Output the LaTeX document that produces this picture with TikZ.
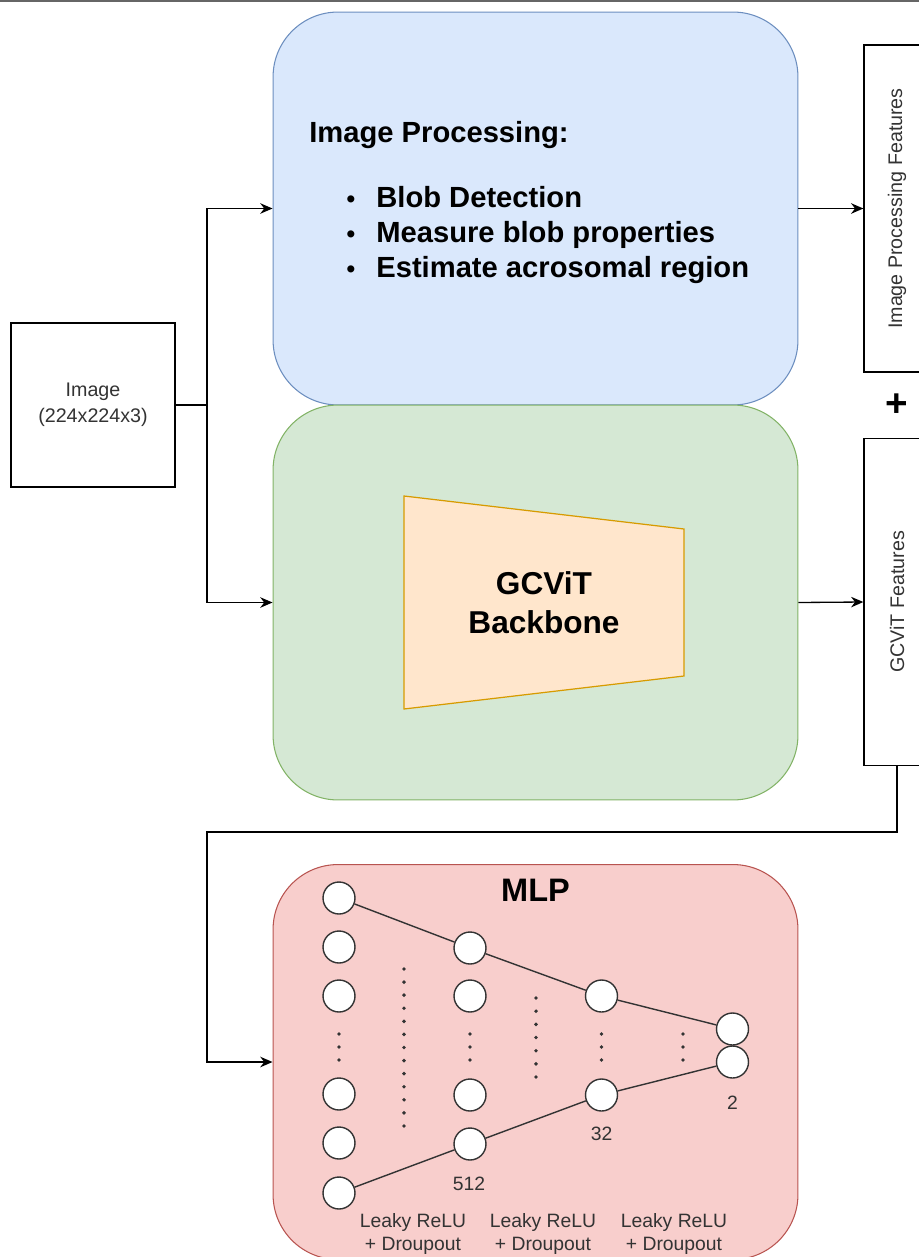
\documentclass[tikz,border=0pt]{standalone}
\usepackage{fontspec}
\setmainfont{Liberation Sans}
\usepackage{xcolor}
\usepackage{tikz}
\usetikzlibrary{arrows.meta, positioning}
\definecolor{ipfill}{HTML}{DAE8FC}
\definecolor{ipline}{HTML}{6C8EBF}
\definecolor{gcfill}{HTML}{D5E8D4}
\definecolor{gcline}{HTML}{82B366}
\definecolor{mlpfill}{HTML}{F8CECC}
\definecolor{mlpline}{HTML}{B85450}
\definecolor{bbfill}{HTML}{FFE6CC}
\definecolor{bbline}{HTML}{D79B00}
\definecolor{txtgray}{HTML}{333333}
\tikzstyle{stage} = [rectangle, rounded corners=1.3cm, line width=0.6pt,
                     minimum width=10.5cm, minimum height=7.86cm]
\tikzstyle{framebox} = [rectangle, draw, line width=0.75pt, text=txtgray,
                        align=center, font=\fontsize{11.2}{14.7}\selectfont]
\tikzstyle{feature} = [framebox, rotate=90, minimum width=6.54cm,
                       minimum height=1.32cm]
\tikzstyle{heading} = [inner sep=0pt, font=\fontsize{16.6}{19.8}\selectfont\bfseries]
\tikzstyle{arrow} = [line width=0.75pt,-{Stealth[length=7pt,width=6pt]}]
\tikzstyle{neuron} = [circle, draw=txtgray, fill=white, line width=0.8pt,
                      minimum size=0.64cm, inner sep=0pt]
\tikzstyle{link} = [line width=0.8pt, draw=txtgray]
\tikzstyle{mlplabel} = [text=txtgray, align=center,
                        font=\fontsize{11}{13.6}\selectfont]
\begin{document}
\begin{tikzpicture}[x=0.02cm, y=-0.02cm]
\useasboundingbox (0,0) rectangle (919,1257);
\clip (0,0) rectangle (919,1257);
\draw [line width=1.2pt, draw=black!60] (0,1) -- (919,1);
% stages
\node [stage, fill=ipfill, draw=ipline] (improc) at (535.5,208.5) {};
\node [stage, fill=gcfill, draw=gcline, minimum height=7.9cm] (gcvit)
	at (535.5,602.5) {};
\node [stage, fill=mlpfill, draw=mlpline, minimum height=7.9cm] (mlp)
	at (535.5,1062) {};
% input and features
\node [framebox, minimum size=3.28cm] (image) at (93,405) {Image\\(224x224x3)};
\node [feature] (ipfeat) at (897,208.5) {Image Processing Features};
\node [feature] (gcfeat) at (897,602) {GCViT Features};
\node [font=\fontsize{22}{22}\selectfont\bfseries] (plus) at (897,405) {+};
% image processing text
\node [heading, anchor=base west] (iptitle) at (309,142.7) {Image Processing:};
\foreach \txt [count=\i] in {Blob Detection, Measure blob properties,
	Estimate acrosomal region}
	\node [heading, anchor=base west] (ipitem\i) at (376,172.3+35*\i)
	{\llap{{\fontsize{14}{14}\selectfont\textbullet}\hspace{12pt}}\txt};
% backbone
\draw [fill=bbfill, draw=bbline, line width=0.7pt]
	(404,496) -- (684,529) -- (684,676) -- (404,709) -- cycle;
\node [align=center, font=\fontsize{18}{22.3}\selectfont\bfseries] (backbone)
	at (544,603) {GCViT\\Backbone};
% connectors
\coordinate (split) at (207,405);
\coordinate (turn) at (207,832);
\draw [line width=0.75pt] (image.east) -- (split);
\draw [arrow] (split) |- (improc.west);
\draw [arrow] (split) |- (gcvit.west);
\draw [arrow] (improc.east) -- (ipfeat.north);
\draw [arrow] (gcvit.east) -- (gcfeat.north);
\draw [arrow] (gcfeat.west) |- (turn) |- (mlp.west);
% mlp
\node [font=\fontsize{18.5}{20}\selectfont\bfseries] (mlptitle)
	at (535.5,890) {MLP};
\foreach \y [count=\i] in {898,947,996,1094,1143,1193}
	\node [neuron] (a\i) at (339,\y) {};
\foreach \y [count=\i] in {948,996,1095,1144}
	\node [neuron] (b\i) at (470,\y) {};
\foreach \y [count=\i] in {996,1095}
	\node [neuron] (c\i) at (601.5,\y) {};
\foreach \y [count=\i] in {1029,1062}
	\node [neuron] (d\i) at (732.5,\y) {};
\draw [link] (a1) -- (b1) -- (c1) -- (d1);
\draw [link] (a6) -- (b4) -- (c2) -- (d2);
\foreach \x in {339,470,601.5,683}
	\foreach \y in {1034,1047,1060}
		\fill [txtgray] (\x,\y) circle (1.1pt);
\foreach \i in {0,...,12}
	\fill [txtgray] (404,969+13.08*\i) circle (1.1pt);
\foreach \i in {0,...,6}
	\fill [txtgray] (536,998+13.17*\i) circle (1.1pt);
\node [mlplabel] (n512) at (469,1184) {512};
\node [mlplabel] (n32) at (601.5,1134) {32};
\node [mlplabel] (n2) at (732.5,1103) {2};
\foreach \x [count=\i] in {413,543,674}
	\node [mlplabel] (act\i) at (\x,1234) {Leaky ReLU\\+ Droupout};
\end{tikzpicture}
\end{document}
